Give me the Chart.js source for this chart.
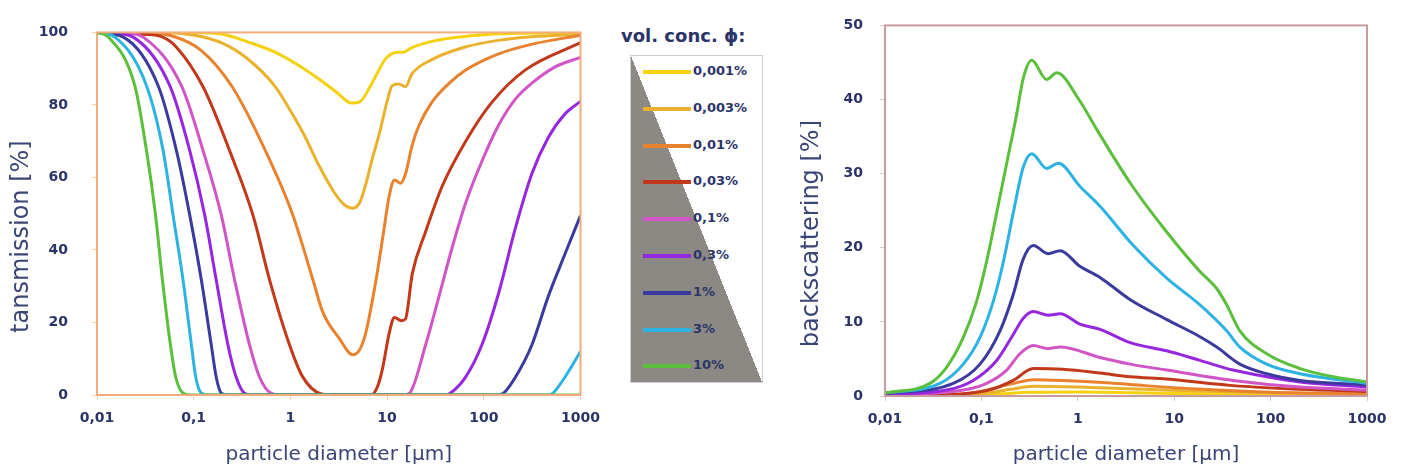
<!DOCTYPE html>
<html>
<head>
<meta charset="utf-8">
<script src="https://cdn.jsdelivr.net/npm/chart.js@4.4.1/dist/chart.umd.min.js"></script>
<style>
  body { margin: 0; background: #fff; width: 1405px; height: 471px; position: relative; overflow: hidden; }
  canvas { position: absolute; top: 0; }
  #legendTitle { position: absolute; left: 621px; top: 25px; font: bold 18px "DejaVu Sans"; color: #2b3468; }
  #legend { position: absolute; left: 630px; top: 55px; width: 133px; height: 328px; box-sizing: border-box;
            border: 1px solid #cfcfcf; background: linear-gradient(to top right, #8c8984 50%, #ffffff 50%); }
  .item { position: absolute; left: 12px; height: 14px; }
  .item span.ln { position: absolute; left: 0; top: 5px; width: 48px; height: 4px; }
  .item span.tx { position: absolute; left: 50px; top: -2px; font: bold 13px "DejaVu Sans"; color: #2b3468; white-space: nowrap; }
</style>
</head>
<body>
<canvas id="trans" width="610" height="471" style="left:0"></canvas>
<canvas id="back" width="605" height="471" style="left:800px"></canvas>
<div id="legendTitle">vol. conc. ϕ:</div>
<div id="legend"></div>
<script>
// volume concentrations (legend order) and colours
const concLabels = ['0,001%', '0,003%', '0,01%', '0,03%', '0,1%', '0,3%', '1%', '3%', '10%'];
const concColors = ['#f6d10f', '#eab12c', '#e9822f', '#c2381a', '#d155c6', '#9727df', '#3b3a9f', '#2db3e1', '#5bbf3b'];

// x axis ticks (particle diameter, µm)
const diamTicks = [0.01, 0.1, 1, 10, 100, 1000];

// transmission [%] vs particle diameter [µm]  -> [d, T]
const trans0001 = [[0.01,100],[0.1,100],[0.2,99.5],[0.4,97],[0.7,94.5],[1.2,91],[2,87],[3,83.5],[4.3,80.5],[5.3,81],[6.5,84.5],[8,89],[9.5,92.5],[11,94],[13,94.5],[15,94.6],[18,95.8],[30,97.6],[60,98.8],[150,99.6],[1000,100]];
const trans0003 = [[0.01,100],[0.05,100],[0.1,99.3],[0.2,97],[0.35,93],[0.7,85],[1.1,76.5],[1.4,71.5],[2,63],[2.9,55.5],[3.6,52.5],[4.4,51.5],[5.2,53],[6,58],[7,65],[8.3,72],[10,81],[11.3,85.3],[13.2,85.8],[15.5,85],[18,88.5],[29,92.5],[65,96],[140,97.8],[310,98.8],[1000,99.5]];
const trans001 = [[0.01,100],[0.03,100],[0.06,99],[0.12,95],[0.25,85],[0.56,67],[1.06,49.6],[1.7,32],[2.15,23],[3.2,15.6],[4.4,11.1],[5.2,12.5],[6,17],[7.6,31],[9.2,45],[10.5,54.8],[11.9,59.3],[13.8,58.4],[15.5,61],[18.2,69],[21.4,74.4],[29,80.7],[44,86],[65,89.6],[140,94],[310,96.7],[1000,99.2]];
const trans003 = [[0.01,100],[0.03,99.5],[0.048,98.7],[0.066,96],[0.125,85],[0.235,67.4],[0.41,49.6],[0.61,31.7],[0.98,13.8],[1.34,5],[2.1,0.3],[3,0],[6.8,0],[8,2.5],[9,7.5],[10.5,17],[11.9,21.4],[14,20.5],[15.5,21],[18.2,33.4],[25,45],[37,57.5],[65,70],[121,80.7],[267,89.6],[1000,97.2]];
const trans01 = [[0.01,100],[0.02,99.8],[0.03,98.7],[0.0746,85.3],[0.125,67.4],[0.193,49.6],[0.265,31.7],[0.378,13.8],[0.48,4.9],[0.63,0.5],[0.8,0],[15,0],[17.1,0.5],[25,13.8],[34.4,27.2],[47,40.6],[65,53],[96,64.6],[142,74.4],[212,81.6],[314,86],[547,90.5],[1000,93.1]];
const trans03 = [[0.01,100],[0.015,99.8],[0.0237,98.7],[0.0566,85.3],[0.091,67.4],[0.13,49.6],[0.171,31.7],[0.226,13.8],[0.275,4.9],[0.336,0.5],[0.42,0],[40,0],[45,0.5],[65,5],[96,14],[142,28],[212,46],[314,61],[464,71],[689,77.5],[1000,81]];
const trans1 = [[0.01,100],[0.0187,98.7],[0.0429,85.3],[0.0663,67.4],[0.091,49.6],[0.12,31.7],[0.152,13.8],[0.171,4.9],[0.193,0.5],[0.23,0],[140,0],[160,0.5],[212,4.9],[314,13.8],[464,27.2],[689,38.8],[1000,49.5]];
const trans3 = [[0.01,100],[0.0153,98.7],[0.0325,85.3],[0.0483,67.4],[0.0612,49.6],[0.0776,31.7],[0.0947,13.8],[0.105,4.9],[0.12,0.5],[0.14,0],[480,0],[520,0.5],[689,4.9],[1000,12]];
const trans10 = [[0.01,100],[0.0131,98.7],[0.0246,85.3],[0.0325,67.4],[0.0403,49.6],[0.0475,31.7],[0.0575,13.8],[0.0652,4.9],[0.0776,0.5],[0.09,0],[1000,0]];

// backscattering [%] vs particle diameter [µm]  -> [d, BS]
const back0001 = [[0.01,0],[0.1,0.1],[0.3,0.5],[1,0.55],[10,0.35],[1000,0.1]];
const back0003 = [[0.01,0],[0.1,0.3],[0.2,0.9],[0.35,1.3],[1,1.2],[5,0.9],[50,0.5],[1000,0.2]];
const back001 = [[0.01,0],[0.05,0.1],[0.1,0.6],[0.2,1.6],[0.35,2.2],[0.7,2.1],[2,1.8],[5,1.4],[20,0.9],[100,0.5],[1000,0.3]];
const back003 = [[0.01,0],[0.05,0.2],[0.12,0.8],[0.214,2.1],[0.345,3.7],[0.7,3.6],[1.7,3.1],[3.5,2.6],[8.36,2.3],[40.6,1.4],[202,0.9],[1000,0.6]];
const back01 = [[0.01,0.1],[0.0649,0.8],[0.113,1.7],[0.183,3.5],[0.251,5.7],[0.345,6.8],[0.494,6.4],[0.656,6.6],[1.7,5.2],[3.5,4.3],[8.36,3.5],[40.6,2.1],[202,1.2],[1000,0.8]];
const back03 = [[0.01,0.2],[0.0437,0.8],[0.0822,2.1],[0.144,4.8],[0.214,8.3],[0.272,10.5],[0.345,11.4],[0.494,10.9],[0.656,11.1],[1.05,9.7],[1.7,9],[3.5,7.2],[8.36,6.1],[18.5,4.8],[40.6,3.5],[91,2.6],[202,1.9],[1000,1.2]];
const back1 = [[0.01,0.3],[0.0511,1.7],[0.0967,4.3],[0.156,8.8],[0.214,13.7],[0.272,18.5],[0.345,20.3],[0.494,19.2],[0.656,19.6],[1.05,17.5],[1.7,16],[3.5,13],[8.4,10.3],[18.5,8],[27.6,6.6],[48,4.3],[91,3],[202,2.1],[1000,1.5]];
const back3 = [[0.01,0.4],[0.0372,1.7],[0.0649,4.3],[0.0967,7.9],[0.133,12.8],[0.169,18.1],[0.214,24.7],[0.272,30.9],[0.333,32.7],[0.475,30.7],[0.63,31.4],[1.05,28.3],[1.7,25.6],[3.77,20.3],[8.36,15.9],[18.5,12.3],[35,8.8],[48,6.6],[91,4.3],[202,3],[1000,1.7]];
const back10 = [[0.01,0.4],[0.0293,1.7],[0.0437,3.9],[0.0649,7.9],[0.0893,12.8],[0.113,18.1],[0.144,24.7],[0.183,31.4],[0.232,38],[0.272,42.9],[0.333,45.3],[0.475,42.7],[0.604,43.6],[1.05,39.8],[1.6,35.8],[3.6,28.5],[8.4,22.1],[18.5,16.8],[27.6,14.5],[35,12.3],[48,8.8],[91,5.7],[202,3.7],[447,2.6],[1000,1.9]];

const transSeries = [trans0001, trans0003, trans001, trans003, trans01, trans03, trans1, trans3, trans10];
const backSeries = [back0001, back0003, back001, back003, back01, back03, back1, back3, back10];

const tickColor = '#2b3468';
const titleColor = '#3a4577';

function makeDatasets(series) {
  return series.map((pts, i) => ({
    label: concLabels[i],
    data: pts.map(p => ({ x: p[0], y: p[1] })),
    borderColor: concColors[i],
    borderWidth: 3,
    pointRadius: 0,
    cubicInterpolationMode: 'monotone',
    order: series.length - 1 - i   // 10% drawn on top
  }));
}

// box around the plot area
const framePlugin = {
  id: 'frame',
  afterDraw(chart, args, opts) {
    const a = chart.chartArea, ctx = chart.ctx;
    ctx.save();
    ctx.strokeStyle = opts.color;
    ctx.lineWidth = opts.width;
    ctx.strokeRect(a.left, a.top, a.right - a.left, a.bottom - a.top);
    ctx.restore();
  }
};

function makeOptions(cfg) {
  return {
    responsive: false,
    animation: false,
    layout: { padding: { top: 20, right: cfg.padRight, left: 0, bottom: 0 } },
    plugins: {
      legend: { display: false },
      tooltip: { enabled: false },
      frame: { color: cfg.frameColor, width: 2 }
    },
    scales: {
      x: {
        type: 'logarithmic',
        min: 0.01, max: 1000,
        afterBuildTicks: (scale) => { scale.ticks = diamTicks.map(v => ({ value: v })); },
        afterFit: (scale) => { scale.height = cfg.xHeight; },
        ticks: {
          color: tickColor, padding: 10, maxRotation: 0,
          font: { family: 'DejaVu Sans', size: 14, weight: 'bold' },
          callback: (v) => String(v).replace('.', ',')
        },
        grid: { drawOnChartArea: false, tickLength: 5, color: cfg.tickMark },
        border: { display: false },
        title: {
          display: true, text: 'particle diameter [µm]', color: titleColor,
          font: { family: 'DejaVu Sans', size: 20, lineHeight: 1.2 },
          padding: { top: 0, bottom: 4 }
        }
      },
      y: {
        min: 0, max: cfg.yMax,
        afterFit: (scale) => { scale.width = cfg.yWidth; },
        ticks: {
          stepSize: cfg.yStep, color: tickColor, padding: cfg.yPad,
          font: { family: 'DejaVu Sans', size: 14, weight: 'bold' }
        },
        grid: { drawOnChartArea: false, tickLength: 5, color: cfg.tickMark },
        border: { display: false },
        title: {
          display: true, text: cfg.yTitle, color: titleColor,
          font: { family: 'DejaVu Sans', size: 24, lineHeight: 1 },
          padding: { top: cfg.yTitlePad, bottom: 0 }
        }
      }
    }
  };
}

// trailing spaces push the rotated title a little down, as in the reference
const transChart = new Chart(document.getElementById('trans'), {
  type: 'line',
  data: { datasets: makeDatasets(transSeries) },
  options: makeOptions({ padRight: 28, xHeight: 76, yWidth: 97, yMax: 100, yStep: 20, yPad: 24,
                         yTitle: 'tansmission [%]      ', yTitlePad: 10, frameColor: '#f3ad7c', tickMark: '#f3cfb5' }),
  plugins: [framePlugin]
});

const backChart = new Chart(document.getElementById('back'), {
  type: 'line',
  data: { datasets: makeDatasets(backSeries) },
  options: makeOptions({ padRight: 38, xHeight: 75, yWidth: 85, yMax: 50, yStep: 10, yPad: 17,
                         yTitle: 'backscattering [%]      ', yTitlePad: 0, frameColor: '#c99aa0', tickMark: '#ddc9cb' }),
  plugins: [framePlugin]
});

// legend built from the chart's datasets
const legendEl = document.getElementById('legend');
transChart.data.datasets.forEach((ds, i) => {
  const item = document.createElement('div');
  item.className = 'item';
  item.style.top = (9 + i * 36.8) + 'px';
  item.innerHTML = '<span class="ln" style="background:' + ds.borderColor + '"></span><span class="tx">' + ds.label + '</span>';
  legendEl.appendChild(item);
});
</script>
</body>
</html>
